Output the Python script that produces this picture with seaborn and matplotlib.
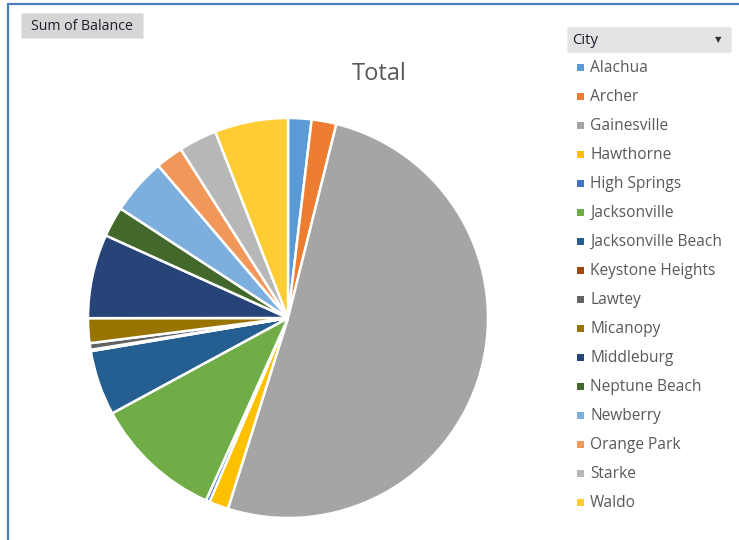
import matplotlib
matplotlib.use("Agg")
import matplotlib.pyplot as plt
from matplotlib.patches import Rectangle
import seaborn as sns

sns.set_theme(style="white")
plt.rcParams["font.family"] = ["Open Sans", "DejaVu Sans"]

# Sum of Balance per city
cities = ["Alachua", "Archer", "Gainesville", "Hawthorne", "High Springs",
          "Jacksonville", "Jacksonville Beach", "Keystone Heights", "Lawtey",
          "Micanopy", "Middleburg", "Neptune Beach", "Newberry", "Orange Park",
          "Starke", "Waldo"]
balances = [18900, 20000, 509400, 15600, 3100,
            103600, 52500, 1100, 5300,
            20000, 67800, 24400, 45600, 22200,
            30800, 59200]
colors = ["#5B9BD5", "#ED7D31", "#A5A5A5", "#FFC000", "#4472C4",
          "#70AD47", "#255E91", "#9E480E", "#636363",
          "#997300", "#264478", "#43682B", "#7CAFDD", "#F1975A",
          "#B7B7B7", "#FFCD33"]

W, H = 739, 540
fig = plt.figure(figsize=(W / 100, H / 100), dpi=100)
fig.patch.set_facecolor("white")


def fx(px):
    return px / W


def fy(py):
    return 1 - py / H


# chart frame (left and top edges)
fig.add_artist(plt.Line2D([fx(8), fx(8)], [fy(4), fy(540)], color="#4A7EBB", lw=1.6))
fig.add_artist(plt.Line2D([fx(8), fx(739)], [fy(4), fy(4)], color="#4A7EBB", lw=1.6))

# pie
cx, cy, r = 288, 318, 202
ax = fig.add_axes([fx(cx - r), fy(cy + r), (2 * r) / W, (2 * r) / H])
ax.pie(balances, colors=colors, startangle=90, counterclock=False,
       wedgeprops=dict(edgecolor="white", linewidth=1.8))
ax.set_xlim(-1.01, 1.01)
ax.set_ylim(-1.01, 1.01)
ax.set_axis_off()

fig.text(fx(379), fy(74), "Total", ha="center", va="center",
         fontsize=17, color="#595959")

# field button
fig.add_artist(Rectangle((fx(21), fy(38)), fx(143) - fx(21), fy(13) - fy(38),
                         transform=fig.transFigure, facecolor="#D6D6D6",
                         edgecolor="#E8E8E8", lw=0.8))
fig.text(fx(82), fy(26.5), "Sum of Balance", ha="center", va="center",
         fontsize=10.2, color="#1E1E2E")

# legend header
fig.add_artist(Rectangle((fx(567), fy(52)), fx(731) - fx(567), fy(27) - fy(52),
                         transform=fig.transFigure, facecolor="#E3E3E3",
                         edgecolor="#EDEDED", lw=0.8))
fig.text(fx(572), fy(40.5), "City", ha="left", va="center",
         fontsize=10.8, color="#1E1E2E")
fig.text(fx(718), fy(40), "\u25BC", ha="center", va="center",
         fontsize=6, color="#333333", family="DejaVu Sans")

# legend entries
y0, step = 67, 29
for i, (city, col) in enumerate(zip(cities, colors)):
    y = y0 + i * step
    fig.add_artist(Rectangle((fx(577), fy(y + 4)), 7 / W, 7 / H,
                             transform=fig.transFigure, facecolor=col,
                             edgecolor="none"))
    fig.text(fx(590), fy(y + 1), city, ha="left", va="center",
             fontsize=11.2, color="#595959")

fig.savefig("out.png", dpi=100)
